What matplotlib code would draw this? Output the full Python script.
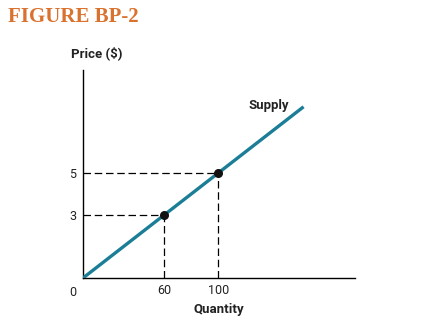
import matplotlib
matplotlib.use('Agg')
import matplotlib.pyplot as plt

# Data
quantity = [0, 163]
price = [0, 8.15]
point_q = [60, 100]
point_p = [3, 5]
xtick_labels = ['60', '100']
ytick_labels = ['3', '5']

cond = ['Roboto', 'DejaVu Sans']

fig = plt.figure(figsize=(4.48, 3.32), dpi=100)
ax = fig.add_axes([83 / 448, 54 / 332, 272 / 448, 208 / 332])

ax.plot(quantity, price, color='#1b7e96', linewidth=2.4, solid_capstyle='butt', zorder=3)
for q, p in zip(point_q, point_p):
    ax.plot([0, q], [p, p], color='black', linestyle=(0, (6, 3)), linewidth=0.9)
    ax.plot([q, q], [0, p], color='black', linestyle=(0, (6, 3)), linewidth=0.9)
ax.scatter(point_q, point_p, s=30, color='#111111', zorder=4)

ax.set_xlim(0, 201)
ax.set_ylim(0, 9.9)
for s in ['top', 'right']:
    ax.spines[s].set_visible(False)
for s in ['left', 'bottom']:
    ax.spines[s].set_linewidth(1.0)

ax.set_xticks(point_q)
ax.set_xticklabels(xtick_labels)
ax.set_yticks(point_p)
ax.set_yticklabels(ytick_labels)
ax.tick_params(axis='x', length=0, pad=4, labelsize=9)
ax.tick_params(axis='y', length=0, pad=5, labelsize=9)
for lab in ax.get_xticklabels() + ax.get_yticklabels():
    lab.set_family(cond)
    lab.set_color('#222222')

ax.text(-7.5, -0.4, '0', ha='center', va='top', fontsize=9, family=cond, color='#222222')
ax.text(100, -1.2, 'Quantity', ha='center', va='top', fontsize=9.5, fontweight='bold',
        family=cond, color='#222222')
ax.text(152, 7.9, 'Supply', ha='right', va='bottom', fontsize=9.5, fontweight='bold',
        family=cond, color='#222222')
fig.text(97 / 448, 1 - 53 / 332, 'Price ($)', ha='center', va='center', fontsize=9.5,
         fontweight='bold', family=cond, color='#222222')

fig.text(8 / 448, 1 - 17 / 332, 'FIGURE BP-2', ha='left', va='center', fontsize=15,
         fontweight='bold', family=['Liberation Serif', 'DejaVu Serif'], color='#d9722e')

fig.savefig('out.png', dpi=100)
